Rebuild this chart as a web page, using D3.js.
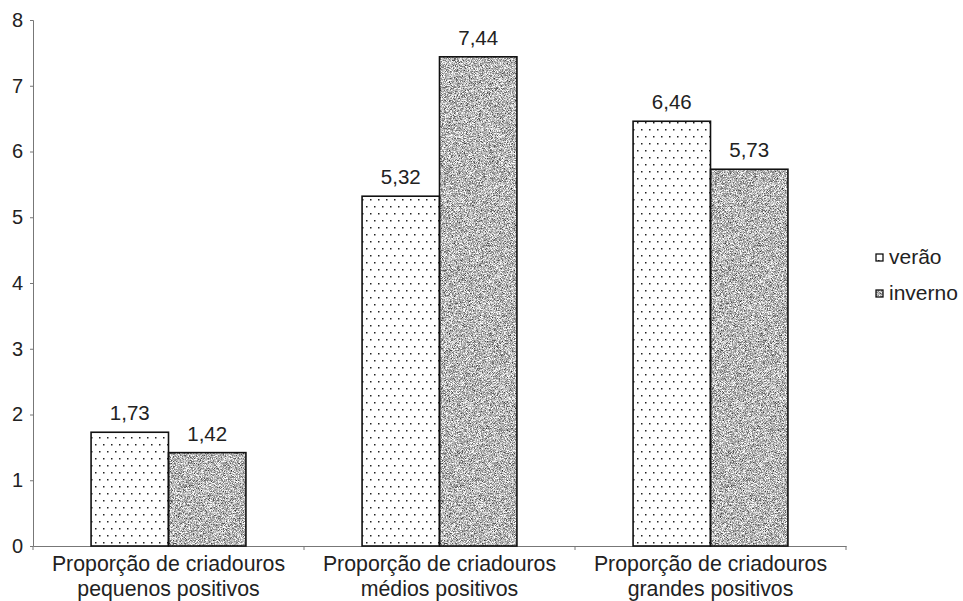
<!DOCTYPE html>
<html>
<head>
<meta charset="utf-8">
<script src="https://cdn.jsdelivr.net/npm/d3@7"></script>
<style>
  body { margin: 0; background: #fff; }
  svg text { font-family: "Liberation Sans", Arial, sans-serif; fill: #222; }
</style>
</head>
<body>
<div id="chart"></div>
<script>
const width = 963;
const height = 601;
const margin = { top: 20, right: 117, bottom: 55, left: 33 };

const categories = [
    ["Proporção de criadouros", "pequenos positivos"],
    ["Proporção de criadouros", "médios positivos"],
    ["Proporção de criadouros", "grandes positivos"]
];
const series = ["verão", "inverno"];
const verao = [1.73, 5.32, 6.46];
const inverno = [1.42, 7.44, 5.73];
const yTicks = [0, 1, 2, 3, 4, 5, 6, 7, 8];

const svg = d3.select("#chart").append("svg").attr("width", width).attr("height", height);

// fill patterns
const defs = svg.append("defs");
const dots = defs.append("pattern").attr("id", "dots").attr("patternUnits", "userSpaceOnUse")
    .attr("width", 8).attr("height", 14);
dots.append("rect").attr("width", 8).attr("height", 14).attr("fill", "#fff");
dots.append("rect").attr("x", 2).attr("y", 3).attr("width", 1.5).attr("height", 1.5).attr("fill", "#222");
dots.append("rect").attr("x", 6).attr("y", 10).attr("width", 1.5).attr("height", 1.5).attr("fill", "#222");

// grainy grey for inverno
const grain = defs.append("filter").attr("id", "grain")
    .attr("x", 0).attr("y", 0).attr("width", 1).attr("height", 1)
    .attr("color-interpolation-filters", "sRGB");
grain.append("feTurbulence").attr("type", "fractalNoise").attr("baseFrequency", 1.4)
    .attr("numOctaves", 2).attr("seed", 7).attr("result", "t");
grain.append("feColorMatrix").attr("in", "t").attr("type", "matrix")
    .attr("values", "1.6 0 0 0 -0.08  1.6 0 0 0 -0.08  1.6 0 0 0 -0.08  0 0 0 0 1");

const fills = { "verão": "url(#dots)", "inverno": "#bdbdbd" };

const x0 = d3.scaleBand().domain(d3.range(categories.length))
    .range([margin.left, width - margin.right]).paddingInner(0).paddingOuter(0);
const x1 = d3.scaleBand().domain(series).range([0, x0.bandwidth()]).paddingInner(0).paddingOuter(0.75);
const y = d3.scaleLinear().domain([0, 8]).range([height - margin.bottom, margin.top]);

// axes
const yAxis = svg.append("g").attr("transform", `translate(${margin.left},0)`)
    .call(d3.axisLeft(y).tickValues(yTicks).tickSize(3).tickPadding(7));
yAxis.select(".domain").attr("stroke", "#777");
yAxis.selectAll(".tick line").attr("stroke", "#777");
yAxis.selectAll("text").attr("font-size", 20);

const xAxis = svg.append("g").attr("transform", `translate(0,${y(0)})`)
    .call(d3.axisBottom(x0).tickSize(0).tickFormat(""));
xAxis.select(".domain").attr("stroke", "#777");
svg.append("g").selectAll("line").data(d3.range(categories.length + 1)).join("line")
    .attr("x1", (i) => margin.left + i * x0.bandwidth())
    .attr("x2", (i) => margin.left + i * x0.bandwidth())
    .attr("y1", y(0)).attr("y2", y(0) + 4).attr("stroke", "#777");

const labels = svg.append("g").selectAll("text").data(categories).join("text")
    .attr("x", (d, i) => x0(i) + x0.bandwidth() / 2)
    .attr("y", y(0) + 25)
    .attr("text-anchor", "middle")
    .attr("font-size", 21.3);
labels.append("tspan").text((d) => d[0]);
labels.append("tspan").attr("x", (d, i) => x0(i) + x0.bandwidth() / 2).attr("dy", 25).text((d) => d[1]);

// bars
const rows = categories.map((c, i) => [
    { key: "verão", value: verao[i] },
    { key: "inverno", value: inverno[i] }
]);

const groups = svg.append("g").selectAll("g").data(rows).join("g")
    .attr("transform", (d, i) => `translate(${x0(i)},0)`);

groups.selectAll("rect.bar").data((d) => d).join("rect")
    .attr("class", "bar")
    .attr("x", (d) => x1(d.key))
    .attr("y", (d) => y(d.value))
    .attr("width", x1.bandwidth())
    .attr("height", (d) => y(0) - y(d.value))
    .attr("fill", (d) => fills[d.key])
    .attr("filter", (d) => d.key === "inverno" ? "url(#grain)" : null);

groups.selectAll("rect.edge").data((d) => d).join("rect")
    .attr("class", "edge")
    .attr("x", (d) => x1(d.key))
    .attr("y", (d) => y(d.value))
    .attr("width", x1.bandwidth())
    .attr("height", (d) => y(0) - y(d.value))
    .attr("fill", "none")
    .attr("stroke", "#111")
    .attr("stroke-width", 1.6);

groups.selectAll("text.val").data((d) => d).join("text")
    .attr("class", "val")
    .attr("x", (d) => x1(d.key) + x1.bandwidth() / 2)
    .attr("y", (d) => y(d.value) - 12)
    .attr("text-anchor", "middle")
    .attr("font-size", 20.5)
    .text((d) => d3.format(".2f")(d.value).replace(".", ","));

// legend
const legend = svg.append("g").attr("transform", "translate(876,257)");
const items = legend.selectAll("g").data(series).join("g")
    .attr("transform", (d, i) => `translate(0,${i * 36})`);
items.append("rect").attr("x", 0).attr("y", -3).attr("width", 7).attr("height", 7)
    .attr("fill", (d) => fills[d])
    .attr("filter", (d) => d === "inverno" ? "url(#grain)" : null);
items.append("rect").attr("x", 0).attr("y", -3).attr("width", 7).attr("height", 7)
    .attr("fill", "none").attr("stroke", "#111").attr("stroke-width", 1.3);
items.append("text").attr("x", 13).attr("y", 7).attr("font-size", 21).text((d) => d);
</script>
</body>
</html>
